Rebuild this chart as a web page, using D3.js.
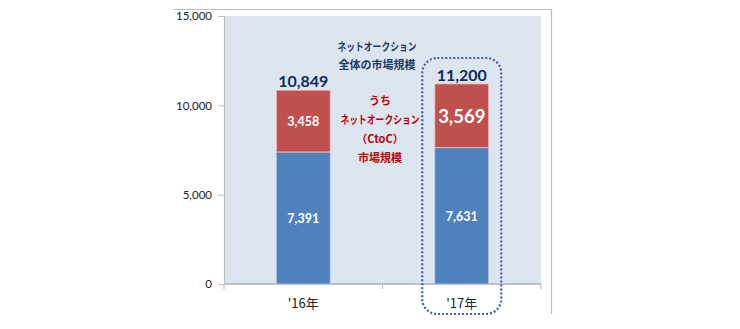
<!DOCTYPE html>
<html>
<head>
<meta charset="utf-8">
<script src="https://cdn.jsdelivr.net/npm/d3@7"></script>
<style>
  html, body { margin: 0; padding: 0; background: #fff; }
  svg { display: block; font-family: "Noto Sans CJK JP", "Open Sans", sans-serif; }
</style>
</head>
<body>
<svg id="chart" width="740" height="329"></svg>
<script>
// Market size by year (units as shown on the axis)
const years = ["'16年", "'17年"];
const ctoc = [3458, 3569];          // うちネットオークション（CtoC）
const other = [7391, 7631];         // remainder of the net auction market
const totals = [10849, 11200];      // ネットオークション全体
const yTicks = [0, 5000, 10000, 15000];

const svg = d3.select("#chart");
const plot = { left: 224, right: 541, top: 16, bottom: 284 };
const numFont = "Lato, 'Open Sans', sans-serif";

// Outer chart frame (top and right edges)
svg.append("path")
  .attr("d", "M173,9.5 H551.5 V314")
  .attr("fill", "none").attr("stroke", "#bfbfbf").attr("stroke-width", 1.2);

// Plot area background
svg.append("rect")
  .attr("x", plot.left).attr("y", plot.top)
  .attr("width", plot.right - plot.left).attr("height", plot.bottom - plot.top)
  .attr("fill", "#dce6f1");

const x = d3.scaleBand().domain(years).range([plot.left, plot.right]).paddingInner(0.66).paddingOuter(0.33);
const y = d3.scaleLinear().domain([0, 15000]).range([plot.bottom, plot.top]);
const fmt = d3.format(",");

// Y axis
const yAxis = svg.append("g")
  .attr("transform", `translate(${plot.left},0)`)
  .call(d3.axisLeft(y).tickValues(yTicks).tickFormat(fmt).tickSize(6).tickPadding(6));
yAxis.select(".domain").attr("stroke", "#bfbfbf").attr("stroke-width", 1.2);
yAxis.selectAll(".tick line").attr("stroke", "#bfbfbf");
yAxis.selectAll(".tick text").attr("font-size", 11.5).attr("fill", "#222")
  .attr("font-family", numFont);

// X axis with tick marks at category boundaries
const xAxisG = svg.append("g").attr("transform", `translate(0,${plot.bottom})`);
xAxisG.append("line")
  .attr("x1", plot.left).attr("x2", plot.right)
  .attr("stroke", "#bfbfbf").attr("stroke-width", 2);
const bounds = [plot.left, plot.left + (plot.right - plot.left) / 2, plot.right];
xAxisG.selectAll("line.tick").data(bounds).join("line")
  .attr("class", "tick")
  .attr("x1", d => d).attr("x2", d => d).attr("y1", 0).attr("y2", 5)
  .attr("stroke", "#bfbfbf").attr("stroke-width", 1.2);
xAxisG.selectAll("text").data(years).join("text")
  .attr("x", d => x(d) + x.bandwidth() / 2).attr("y", 24)
  .attr("text-anchor", "middle").attr("font-size", 13).attr("fill", "#222")
  .text(d => d);

// Stacked bars
const rows = years.map((yr, i) => ({ yr, other: other[i], ctoc: ctoc[i], total: totals[i] }));
const bars = svg.append("g");
bars.selectAll("rect.other").data(rows).join("rect")
  .attr("x", d => x(d.yr)).attr("width", x.bandwidth())
  .attr("y", d => y(d.other)).attr("height", d => y(0) - y(d.other))
  .attr("fill", "#4f81bd").attr("stroke", "#b9cde5").attr("stroke-width", 0.8);
bars.selectAll("rect.ctoc").data(rows).join("rect")
  .attr("x", d => x(d.yr)).attr("width", x.bandwidth())
  .attr("y", d => y(d.other + d.ctoc)).attr("height", d => y(d.other) - y(d.other + d.ctoc))
  .attr("fill", "#c0504d").attr("stroke", "#f2c8c6").attr("stroke-width", 0.8);

// Segment labels
const cx = d => x(d.yr) + x.bandwidth() / 2;
bars.selectAll("text.other").data(rows).join("text")
  .attr("x", cx).attr("y", d => y(d.other / 2) + 5)
  .attr("text-anchor", "middle").attr("font-size", 12.5).attr("font-weight", "bold")
  .attr("fill", "#fff").attr("font-family", numFont)
  .text(d => fmt(d.other));
bars.selectAll("text.ctoc").data(rows).join("text")
  .attr("x", cx).attr("y", (d, i) => y(d.other + d.ctoc / 2) + (i === 1 ? 7 : 5))
  .attr("text-anchor", "middle").attr("font-size", (d, i) => i === 1 ? 18.5 : 12.5)
  .attr("font-weight", "bold").attr("fill", "#fff").attr("font-family", numFont)
  .text(d => fmt(d.ctoc));
bars.selectAll("text.total").data(rows).join("text")
  .attr("x", cx).attr("y", d => y(d.total) - 3)
  .attr("text-anchor", "middle").attr("font-size", 16).attr("font-weight", "bold")
  .attr("fill", "#0f2a5c").attr("font-family", numFont)
  .text(d => fmt(d.total));

// Annotations; katakana lines are set to the narrow width of the original typeface
const kanaWidth = 79;
const isKana = d => d === "ネットオークション";
const navyNote = ["ネットオークション", "全体の市場規模"];
svg.append("g").selectAll("text").data(navyNote).join("text")
  .attr("x", 377).attr("y", (d, i) => 51 + i * 18)
  .attr("text-anchor", "middle").attr("font-size", 11).attr("font-weight", "bold")
  .attr("fill", "#1f3864")
  .each(function (d) {
    if (isKana(d)) d3.select(this).attr("textLength", kanaWidth).attr("lengthAdjust", "spacingAndGlyphs");
  })
  .text(d => d);
const redNote = ["うち", "ネットオークション", "（CtoC）", "市場規模"];
svg.append("g").selectAll("text").data(redNote).join("text")
  .attr("x", 380).attr("y", (d, i) => 105 + i * 19)
  .attr("text-anchor", "middle").attr("font-size", 11).attr("font-weight", "bold")
  .attr("fill", "#c00000")
  .each(function (d) {
    if (isKana(d)) d3.select(this).attr("textLength", kanaWidth).attr("lengthAdjust", "spacingAndGlyphs");
  })
  .text(d => d);

// Dotted highlight around the latest year
const hx = x(years[1]) + x.bandwidth() / 2;
svg.append("rect")
  .attr("x", hx - 39.5).attr("y", 58).attr("width", 79).attr("height", 256)
  .attr("rx", 15).attr("ry", 15)
  .attr("fill", "none").attr("stroke", "#3f5f95").attr("stroke-width", 2.2)
  .attr("stroke-dasharray", "2 2");
</script>
</body>
</html>
